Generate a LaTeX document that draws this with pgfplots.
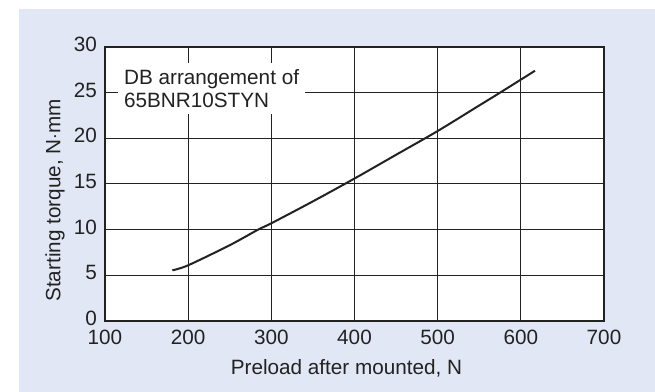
\documentclass[border=0pt]{standalone}
\usepackage{pgfplots}
\pgfplotsset{compat=1.18}
\usepackage{fontspec}
\setmainfont{Liberation Sans}
\definecolor{bgblue}{RGB}{225,231,244}
\definecolor{ink}{RGB}{34,34,34}
\begin{document}
\begin{tikzpicture}
\useasboundingbox (0,0) rectangle (655bp,392bp);
\fill[white] (0,0) rectangle (655bp,392bp);
\fill[bgblue] (19bp,0) rectangle (655bp,383bp);
\begin{axis}[
    at={(105bp,71bp)}, anchor=south west,
    scale only axis,
    width=499bp, height=274bp,
    xmin=100, xmax=700, ymin=0, ymax=30,
    xtick={100,200,...,700},
    ytick={0,5,...,30},
    major tick length=0pt,
    grid=major,
    major grid style={ink, line width=1bp},
    axis line style={ink, line width=1.5bp},
    axis background/.style={fill=white},
    /pgf/number format/assume math mode=true,
    tick label style={font=\fontsize{20.7bp}{24bp}\selectfont, text=ink, inner sep=0pt},
    yticklabel style={xshift=-8bp, yshift=2.5bp},
    xticklabel style={yshift=-9bp},
    label style={font=\fontsize{20.7bp}{24bp}\selectfont, text=ink},
    xlabel={Preload after mounted, N},
    xlabel style={at={(rel axis cs:0.484,0)}, anchor=base, yshift=-53bp},
    ylabel={Starting torque, N$\cdot$mm},
    ylabel style={at={(rel axis cs:0,0.44)}, anchor=center, yshift=50bp},
  ]
  \addplot[ink, line width=2bp, smooth] coordinates {
      (181, 5.55)
      (200, 6.1)
      (250, 8.3)
      (284, 10.0)
      (300, 10.7)
      (350, 13.1)
      (400, 15.6)
      (450, 18.2)
      (500, 20.8)
      (550, 23.6)
      (575, 25.0)
      (617, 27.4)
    };
  \node[fill=white, anchor=north west, align=left, inner xsep=6bp, inner ysep=6bp,
        font=\fontsize{20.7bp}{23.5bp}\selectfont, text=ink]
    at (rel axis cs:0.026,0.942) {DB arrangement of\\65BNR10STYN};
\end{axis}
\end{tikzpicture}
\end{document}
